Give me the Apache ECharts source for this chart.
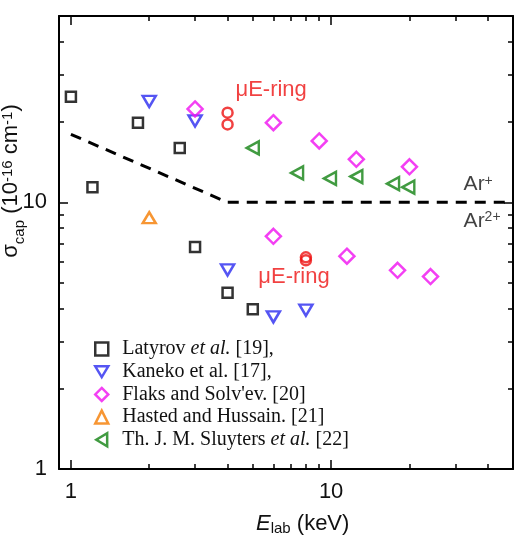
<!DOCTYPE html>
<html>
<head>
<meta charset="utf-8">
<script src="https://cdn.jsdelivr.net/npm/echarts@6/dist/echarts.min.js"></script>
<style>
    html, body { margin: 0; padding: 0; background: #fff; }
    #chart { width: 521px; height: 542px; }
</style>
</head>
<body>
<div id="chart"></div>
<script>
// values: [E_lab (keV), sigma_cap (1e-16 cm^-1)]
var latyrov = [[1.0, 24.9], [1.21, 11.4], [1.81, 19.9], [2.62, 16.0], [3.0, 6.8], [4.0, 4.58], [5.0, 3.97]];
var kaneko = [[2.0, 23.9], [3.0, 20.2], [4.0, 5.58], [6.0, 3.72], [8.0, 3.94]];
var flaks = [[3.0, 22.4], [6.0, 19.9], [9.0, 17.0], [12.5, 14.5], [20.0, 13.6], [6.0, 7.46], [11.5, 6.28], [18.0, 5.56], [24.1, 5.27]];
var hasted = [[2.0, 8.76]];
var sluyters = [[5.0, 16.0], [7.4, 12.9], [9.9, 12.3], [12.5, 12.5], [17.3, 11.75], [19.8, 11.4]];
var ering = [[4.0, 21.7], [4.0, 19.6], [8.0, 6.22], [8.0, 6.06]];
var threshold = [[1.0, 18.0], [4.0, 10.0], [50, 10.0]];

var seriesNames = ['Latyrov', 'Kaneko', 'Flaks', 'Hasted', 'Sluyters'];
var legendLabels = [
    '{sp| }{t|Latyrov }{i|et al.}{t| [19],}',
    '{sp| }{t|Kaneko et al. [17],}',
    "{sp| }{t|Flaks and Solv'ev. [20]}",
    '{sp| }{t|Hasted and Hussain. [21]}',
    '{sp| }{t|Th. J. M. Sluyters }{i|et al.}{t| [22]}'
];
var legendIcons = ['rect', 'path://M0,0L12,0L6,10Z', 'diamond', 'triangle', 'path://M12,0L12,12L2,6Z'];

var xMajor = [1, 10];
var xMinor = [2, 3, 4, 5, 6, 7, 8, 9, 20, 30, 40];
var yMajor = [1, 10];
var yMinor = [2, 3, 4, 5, 6, 7, 8, 9, 20, 30, 40];

// [x, y, text]
var notes = [
    [4.29, 26.5, '{r|μE-ring}'],
    [5.25, 5.26, '{r|μE-ring}'],
    [32.3, 11.68, '{a|Ar}{s|+}'],
    [32.3, 8.53, '{a|Ar}{s|2+}']
];

var yName = '{b|σ}{sub|cap}{b| (10}{sup|-16}{b| cm}{sup|-1}{b|)}';
var xName = '{e|E}{xs|lab}{xb| (keV)}';

var sans = 'Liberation Sans, Arial, sans-serif';
var serif = 'Liberation Serif, Times New Roman, serif';

function axis(pos, min, max, ticks, len, main, labels) {
    return {
        type: 'log',
        position: pos,
        min: min,
        max: max,
        axisLine: { show: main, onZero: false, lineStyle: { color: '#000', width: 2 } },
        axisTick: { show: true, inside: true, length: len, customValues: ticks, lineStyle: { color: '#000', width: 1.5 } },
        axisLabel: labels ? {
            show: true, customValues: labels, margin: 12,
            fontSize: 22, color: '#111', fontFamily: sans
        } : { show: false },
        splitLine: { show: false },
        minorTick: { show: false }
    };
}

function hollow(name, data, symbol, size, color, rotate) {
    return {
        name: name,
        type: 'scatter',
        data: data,
        symbol: symbol,
        symbolSize: size,
        symbolRotate: rotate || 0,
        itemStyle: { color: 'rgba(0,0,0,0)', borderColor: color, borderWidth: 2.5 },
        z: 3
    };
}

var chart = echarts.init(document.getElementById('chart'));
chart.setOption({
    animation: false,
    backgroundColor: '#fff',
    grid: { left: 59, right: 8, top: 16, bottom: 73, outerBoundsMode: 'none' },
    xAxis: [
        axis('bottom', 0.9, 50, xMajor, 9, true, xMajor),
        axis('bottom', 0.9, 50, xMinor, 5, false, null),
        axis('top', 0.9, 50, xMajor, 9, true, null),
        axis('top', 0.9, 50, xMinor, 5, false, null)
    ],
    yAxis: [
        axis('left', 1, 50, yMajor, 9, true, yMajor),
        axis('left', 1, 50, yMinor, 5, false, null),
        axis('right', 1, 50, yMajor, 9, true, null),
        axis('right', 1, 50, yMinor, 5, false, null)
    ],
    legend: {
        data: seriesNames.map(function (n, i) { return { name: n, icon: legendIcons[i] }; }),
        orient: 'vertical',
        left: 89,
        top: 334,
        itemWidth: 13,
        itemHeight: 13,
        itemGap: 2.7,
        itemStyle: { borderWidth: 2.5 },
        formatter: function (name) {
            return legendLabels[seriesNames.indexOf(name)];
        },
        textStyle: {
            rich: {
                sp: { width: 9, fontSize: 10 },
                t: { fontFamily: serif, fontSize: 20, lineHeight: 21, color: '#111' },
                i: { fontFamily: serif, fontSize: 20, lineHeight: 21, fontStyle: 'italic', color: '#111' }
            }
        }
    },
    graphic: [
        {
            type: 'text', x: 11, y: 181, rotation: Math.PI / 2,
            style: {
                text: yName, align: 'center', verticalAlign: 'middle',
                rich: {
                    b: { fontFamily: sans, fontSize: 22, lineHeight: 22, verticalAlign: 'top', fill: '#111' },
                    sub: { fontFamily: sans, fontSize: 15, lineHeight: 15, padding: [12, 0, 0, 0], verticalAlign: 'top', fill: '#111' },
                    sup: { fontFamily: sans, fontSize: 15, lineHeight: 15, verticalAlign: 'top', fill: '#111' }
                }
            }
        },
        {
            type: 'text', x: 256, y: 524,
            style: {
                text: xName, align: 'left', verticalAlign: 'middle',
                rich: {
                    e: { fontFamily: sans, fontSize: 22, lineHeight: 22, fontStyle: 'italic', verticalAlign: 'top', fill: '#111' },
                    xb: { fontFamily: sans, fontSize: 22, lineHeight: 22, verticalAlign: 'top', fill: '#111' },
                    xs: { fontFamily: sans, fontSize: 15, lineHeight: 15, padding: [8, 0, 0, 0], verticalAlign: 'top', fill: '#111' }
                }
            }
        }
    ],
    series: [
        {
            name: 'threshold',
            type: 'line',
            data: threshold,
            symbol: 'none',
            lineStyle: { color: '#000', width: 3, type: [11, 8] },
            z: 2
        },
        hollow('Latyrov', latyrov, 'rect', 10, '#000'),
        hollow('Kaneko', kaneko, 'triangle', [13, 11], '#2a2af0', 180),
        hollow('Flaks', flaks, 'diamond', 15, '#f010f0'),
        hollow('Hasted', hasted, 'triangle', [13, 11], '#f57c00'),
        hollow('Sluyters', sluyters, 'triangle', [13, 12], '#128212', 90),
        hollow('ering', ering, 'circle', 10, '#ee1111'),
        {
            name: 'notes',
            type: 'scatter',
            data: notes,
            symbolSize: 0,
            silent: true,
            label: {
                show: true,
                position: 'right',
                distance: 0,
                formatter: function (p) { return p.value[2]; },
                rich: {
                    r: { fontFamily: sans, fontSize: 22, lineHeight: 22, color: '#ee1111', verticalAlign: 'top' },
                    a: { fontFamily: sans, fontSize: 21, lineHeight: 21, color: '#111', verticalAlign: 'top' },
                    s: { fontFamily: sans, fontSize: 14, lineHeight: 14, color: '#111', verticalAlign: 'top' }
                }
            }
        }
    ]
});
</script>
</body>
</html>
